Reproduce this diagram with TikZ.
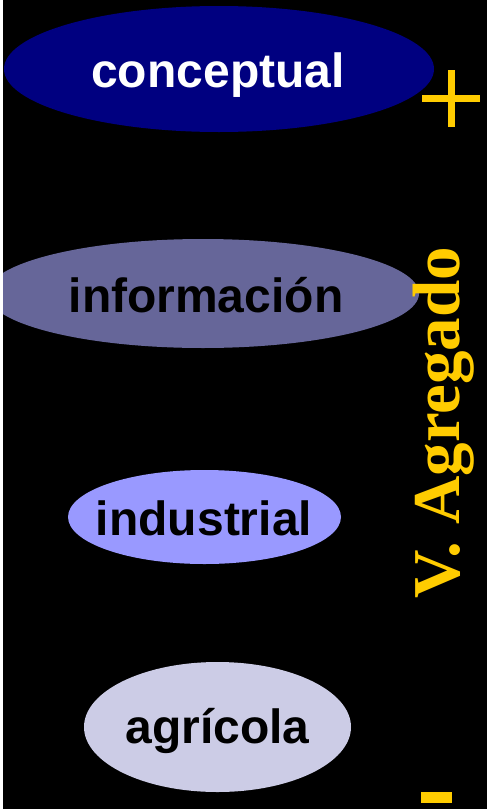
\documentclass[tikz,border=0pt]{standalone}
\usepackage{fontspec}
\setmainfont{Liberation Sans}
\newfontfamily\serifbold{Liberation Serif}
\usetikzlibrary{shapes.geometric}
\definecolor{navyfill}{HTML}{000080}
\definecolor{infofill}{HTML}{666699}
\definecolor{indfill}{HTML}{9999FF}
\definecolor{agrfill}{HTML}{CCCCE6}
\definecolor{gold}{HTML}{FFCC00}
\tikzset{
  oval/.style={ellipse, inner sep=0pt, draw=none},
  lbl/.style={anchor=base, inner sep=0pt, font=\fontsize{48}{48}\selectfont\bfseries},
  barpart/.style={fill=gold}
}
\begin{document}
\begin{tikzpicture}[x=1pt,y=-1pt]
\useasboundingbox (0,0) rectangle (487,809);
\fill[black] (0,0) rectangle (487,809);
% ellipses
\node[oval, fill=navyfill, minimum width=430pt, minimum height=126pt] (conc) at (219,69) {};
\node[oval, fill=infofill, minimum width=432pt, minimum height=109pt] (info) at (203,293.5) {};
\node[oval, fill=indfill, minimum width=273pt, minimum height=94pt] (ind) at (204.5,517) {};
\node[oval, fill=agrfill, minimum width=267pt, minimum height=130pt] (agr) at (217.5,727) {};
% labels
\node[lbl, text=white] (tconc) at (218,87) {conceptual};
\node[lbl, text=black] (tinfo) at (206,312) {información};
\node[lbl, text=black] (tind) at (204,535) {industrial};
\node[lbl, text=black] (tagr) at (217.5,743) {agrícola};
% white strip at left edge
\fill[white] (0,0) rectangle (3,809);
% plus sign
\fill[barpart] (422,95) rectangle (480,102);
\fill[barpart] (448,70) rectangle (455,127);
% minus sign
\fill[barpart] (421,792) rectangle (452,803);
% vertical label
\node[anchor=base, rotate=90, inner sep=0pt, text=gold,
  font=\serifbold\fontsize{67}{67}\selectfont\bfseries] (va) at (459,422.5) {V. Agregado};
\end{tikzpicture}
\end{document}
